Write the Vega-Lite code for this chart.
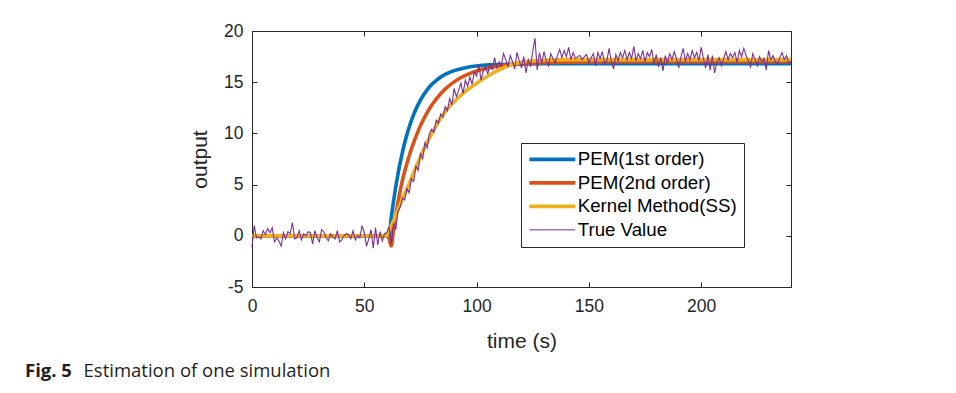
{
  "$schema": "https://vega.github.io/schema/vega-lite/v6.json",
  "width": 539,
  "height": 256,
  "autosize": {"type": "none"},
  "padding": {"left": 252, "top": 31, "right": 165, "bottom": 106},
  "background": "white",
  "title": {
    "text": "Fig. 5",
    "subtitle": "\u200b\u2003\u2003\u2003\u2009Estimation of one simulation",
    "orient": "bottom",
    "anchor": "start",
    "frame": "group",
    "dx": -227,
    "offset": 10,
    "font": "Open Sans",
    "fontSize": 18.5,
    "fontWeight": "bold",
    "color": "#231f20",
    "subtitleFont": "Open Sans",
    "subtitleFontSize": 18.5,
    "subtitleFontWeight": "normal",
    "subtitleColor": "#231f20",
    "subtitlePadding": -18.5
  },
  "datasets": {
    "pem1": [
      {"t": 0, "v": 0, "s": "PEM(1st order)"}, {"t": 61, "v": 0, "s": "PEM(1st order)"},
      {"t": 62, "v": 1.77, "s": "PEM(1st order)"}, {"t": 63, "v": 3.34, "s": "PEM(1st order)"},
      {"t": 64, "v": 4.76, "s": "PEM(1st order)"}, {"t": 65, "v": 6.03, "s": "PEM(1st order)"},
      {"t": 66, "v": 7.16, "s": "PEM(1st order)"}, {"t": 67, "v": 8.18, "s": "PEM(1st order)"},
      {"t": 68, "v": 9.09, "s": "PEM(1st order)"}, {"t": 69, "v": 9.89, "s": "PEM(1st order)"},
      {"t": 70, "v": 10.62, "s": "PEM(1st order)"}, {"t": 72, "v": 11.85, "s": "PEM(1st order)"},
      {"t": 74, "v": 12.83, "s": "PEM(1st order)"}, {"t": 76, "v": 13.63, "s": "PEM(1st order)"},
      {"t": 78, "v": 14.26, "s": "PEM(1st order)"}, {"t": 80, "v": 14.77, "s": "PEM(1st order)"},
      {"t": 83, "v": 15.34, "s": "PEM(1st order)"}, {"t": 86, "v": 15.76, "s": "PEM(1st order)"},
      {"t": 90, "v": 16.13, "s": "PEM(1st order)"}, {"t": 95, "v": 16.42, "s": "PEM(1st order)"},
      {"t": 100, "v": 16.58, "s": "PEM(1st order)"}, {"t": 106, "v": 16.69, "s": "PEM(1st order)"},
      {"t": 115, "v": 16.76, "s": "PEM(1st order)"}, {"t": 130, "v": 16.8, "s": "PEM(1st order)"},
      {"t": 240, "v": 16.8, "s": "PEM(1st order)"}
    ],
    "pem2": [
      {"t": 0, "v": 0, "s": "PEM(2nd order)"}, {"t": 60, "v": 0, "s": "PEM(2nd order)"},
      {"t": 61, "v": -0.2, "s": "PEM(2nd order)"}, {"t": 62, "v": -1.0, "s": "PEM(2nd order)"},
      {"t": 63, "v": 0.6, "s": "PEM(2nd order)"}, {"t": 64, "v": 2.0, "s": "PEM(2nd order)"},
      {"t": 65, "v": 3.3, "s": "PEM(2nd order)"}, {"t": 66, "v": 4.4, "s": "PEM(2nd order)"},
      {"t": 67, "v": 5.43, "s": "PEM(2nd order)"}, {"t": 68, "v": 6.29, "s": "PEM(2nd order)"},
      {"t": 69, "v": 7.07, "s": "PEM(2nd order)"}, {"t": 70, "v": 7.81, "s": "PEM(2nd order)"},
      {"t": 72, "v": 9.12, "s": "PEM(2nd order)"}, {"t": 74, "v": 10.25, "s": "PEM(2nd order)"},
      {"t": 76, "v": 11.21, "s": "PEM(2nd order)"}, {"t": 78, "v": 12.03, "s": "PEM(2nd order)"},
      {"t": 80, "v": 12.74, "s": "PEM(2nd order)"}, {"t": 83, "v": 13.62, "s": "PEM(2nd order)"},
      {"t": 86, "v": 14.32, "s": "PEM(2nd order)"}, {"t": 90, "v": 15.03, "s": "PEM(2nd order)"},
      {"t": 95, "v": 15.66, "s": "PEM(2nd order)"}, {"t": 100, "v": 16.09, "s": "PEM(2nd order)"},
      {"t": 105, "v": 16.38, "s": "PEM(2nd order)"}, {"t": 110, "v": 16.58, "s": "PEM(2nd order)"},
      {"t": 115, "v": 16.71, "s": "PEM(2nd order)"}, {"t": 120, "v": 16.8, "s": "PEM(2nd order)"},
      {"t": 130, "v": 16.91, "s": "PEM(2nd order)"}, {"t": 140, "v": 16.96, "s": "PEM(2nd order)"},
      {"t": 160, "v": 17.0, "s": "PEM(2nd order)"}, {"t": 240, "v": 17.0, "s": "PEM(2nd order)"}
    ],
    "kernel": [
      {"t": 0, "v": 0, "s": "Kernel Method(SS)"}, {"t": 60, "v": 0, "s": "Kernel Method(SS)"},
      {"t": 61, "v": 0.5, "s": "Kernel Method(SS)"}, {"t": 62, "v": 1.0, "s": "Kernel Method(SS)"},
      {"t": 64, "v": 2.0, "s": "Kernel Method(SS)"}, {"t": 66, "v": 3.1, "s": "Kernel Method(SS)"},
      {"t": 68, "v": 4.1, "s": "Kernel Method(SS)"}, {"t": 70, "v": 5.1, "s": "Kernel Method(SS)"},
      {"t": 72, "v": 6.2, "s": "Kernel Method(SS)"}, {"t": 74, "v": 7.2, "s": "Kernel Method(SS)"},
      {"t": 76, "v": 8.2, "s": "Kernel Method(SS)"}, {"t": 78, "v": 9.1, "s": "Kernel Method(SS)"},
      {"t": 80, "v": 9.95, "s": "Kernel Method(SS)"}, {"t": 83, "v": 11.1, "s": "Kernel Method(SS)"},
      {"t": 86, "v": 12.1, "s": "Kernel Method(SS)"}, {"t": 90, "v": 13.1, "s": "Kernel Method(SS)"},
      {"t": 95, "v": 14.1, "s": "Kernel Method(SS)"}, {"t": 100, "v": 14.9, "s": "Kernel Method(SS)"},
      {"t": 105, "v": 15.6, "s": "Kernel Method(SS)"}, {"t": 110, "v": 16.2, "s": "Kernel Method(SS)"},
      {"t": 116, "v": 16.75, "s": "Kernel Method(SS)"}, {"t": 120, "v": 16.95, "s": "Kernel Method(SS)"},
      {"t": 130, "v": 17.15, "s": "Kernel Method(SS)"}, {"t": 140, "v": 17.2, "s": "Kernel Method(SS)"},
      {"t": 240, "v": 17.2, "s": "Kernel Method(SS)"}
    ],
    "truth": [
      {"t":0,"v":-1.1,"s":"True Value"},{"t":1,"v":1.0,"s":"True Value"},{"t":2,"v":-0.2,"s":"True Value"},{"t":3,"v":-0.1,"s":"True Value"},{"t":4,"v":-0.3,"s":"True Value"},
      {"t":5,"v":0.5,"s":"True Value"},{"t":6,"v":0.1,"s":"True Value"},{"t":7,"v":0.7,"s":"True Value"},{"t":8,"v":0.3,"s":"True Value"},{"t":9,"v":0.8,"s":"True Value"},
      {"t":10,"v":-0.6,"s":"True Value"},{"t":11,"v":-0.2,"s":"True Value"},{"t":12,"v":-0.5,"s":"True Value"},{"t":13,"v":-1.0,"s":"True Value"},{"t":14,"v":0.3,"s":"True Value"},
      {"t":15,"v":-0.3,"s":"True Value"},{"t":16,"v":0.4,"s":"True Value"},{"t":17,"v":0.2,"s":"True Value"},{"t":18,"v":1.3,"s":"True Value"},{"t":19,"v":-0.3,"s":"True Value"},
      {"t":20,"v":-0.2,"s":"True Value"},{"t":21,"v":0.5,"s":"True Value"},{"t":22,"v":-0.4,"s":"True Value"},{"t":23,"v":0.2,"s":"True Value"},{"t":24,"v":0.0,"s":"True Value"},
      {"t":25,"v":0.4,"s":"True Value"},{"t":26,"v":0.3,"s":"True Value"},{"t":27,"v":-0.8,"s":"True Value"},{"t":28,"v":0.5,"s":"True Value"},{"t":29,"v":-0.2,"s":"True Value"},
      {"t":30,"v":-0.6,"s":"True Value"},{"t":31,"v":0.6,"s":"True Value"},{"t":32,"v":0.4,"s":"True Value"},{"t":33,"v":-0.2,"s":"True Value"},{"t":34,"v":-0.5,"s":"True Value"},
      {"t":35,"v":0.2,"s":"True Value"},{"t":36,"v":-0.1,"s":"True Value"},{"t":37,"v":-0.3,"s":"True Value"},{"t":38,"v":0.5,"s":"True Value"},{"t":39,"v":-0.6,"s":"True Value"},
      {"t":40,"v":-0.4,"s":"True Value"},{"t":41,"v":0.0,"s":"True Value"},{"t":42,"v":0.2,"s":"True Value"},{"t":43,"v":0.1,"s":"True Value"},{"t":44,"v":-0.3,"s":"True Value"},
      {"t":45,"v":0.5,"s":"True Value"},{"t":46,"v":-0.4,"s":"True Value"},{"t":47,"v":0.0,"s":"True Value"},{"t":48,"v":-0.2,"s":"True Value"},{"t":49,"v":1.0,"s":"True Value"},
      {"t":50,"v":0.3,"s":"True Value"},{"t":51,"v":-1.0,"s":"True Value"},{"t":52,"v":-0.3,"s":"True Value"},{"t":53,"v":0.6,"s":"True Value"},{"t":54,"v":-1.2,"s":"True Value"},
      {"t":55,"v":0.8,"s":"True Value"},{"t":56,"v":-0.9,"s":"True Value"},{"t":57,"v":0.4,"s":"True Value"},{"t":58,"v":-0.5,"s":"True Value"},{"t":59,"v":0.2,"s":"True Value"},
      {"t":60,"v":0.3,"s":"True Value"},{"t":61,"v":0.9,"s":"True Value"},{"t":62,"v":-0.8,"s":"True Value"},{"t":63,"v":1.2,"s":"True Value"},{"t":64,"v":0.6,"s":"True Value"},
      {"t":65,"v":2.4,"s":"True Value"},{"t":66,"v":2.8,"s":"True Value"},{"t":67,"v":3.7,"s":"True Value"},{"t":68,"v":3.5,"s":"True Value"},{"t":69,"v":4.6,"s":"True Value"},
      {"t":70,"v":4.2,"s":"True Value"},{"t":71,"v":5.6,"s":"True Value"},{"t":72,"v":5.3,"s":"True Value"},{"t":73,"v":6.8,"s":"True Value"},{"t":74,"v":6.4,"s":"True Value"},
      {"t":75,"v":8.0,"s":"True Value"},{"t":76,"v":7.5,"s":"True Value"},{"t":77,"v":9.1,"s":"True Value"},{"t":78,"v":8.6,"s":"True Value"},{"t":79,"v":10.0,"s":"True Value"},
      {"t":80,"v":10.4,"s":"True Value"},{"t":81,"v":10.1,"s":"True Value"},{"t":82,"v":11.3,"s":"True Value"},{"t":83,"v":11.0,"s":"True Value"},{"t":84,"v":11.9,"s":"True Value"},
      {"t":85,"v":11.6,"s":"True Value"},{"t":86,"v":12.6,"s":"True Value"},{"t":87,"v":12.2,"s":"True Value"},{"t":88,"v":13.4,"s":"True Value"},{"t":89,"v":12.8,"s":"True Value"},
      {"t":90,"v":14.4,"s":"True Value"},{"t":91,"v":13.6,"s":"True Value"},{"t":92,"v":14.2,"s":"True Value"},{"t":93,"v":14.9,"s":"True Value"},{"t":94,"v":13.9,"s":"True Value"},
      {"t":95,"v":15.2,"s":"True Value"},{"t":96,"v":14.6,"s":"True Value"},{"t":97,"v":15.5,"s":"True Value"},{"t":98,"v":14.8,"s":"True Value"},{"t":99,"v":16.0,"s":"True Value"},
      {"t":100,"v":15.6,"s":"True Value"},{"t":101,"v":16.7,"s":"True Value"},{"t":102,"v":15.2,"s":"True Value"},{"t":103,"v":16.1,"s":"True Value"},{"t":104,"v":16.5,"s":"True Value"},
      {"t":105,"v":15.8,"s":"True Value"},{"t":106,"v":16.9,"s":"True Value"},{"t":107,"v":16.2,"s":"True Value"},{"t":108,"v":17.4,"s":"True Value"},{"t":109,"v":16.4,"s":"True Value"},
      {"t":110,"v":17.0,"s":"True Value"},{"t":111,"v":16.6,"s":"True Value"},{"t":112,"v":17.8,"s":"True Value"},{"t":113,"v":17.2,"s":"True Value"},{"t":114,"v":16.5,"s":"True Value"},
      {"t":115,"v":17.6,"s":"True Value"},{"t":116,"v":17.0,"s":"True Value"},{"t":117,"v":16.3,"s":"True Value"},{"t":118,"v":17.9,"s":"True Value"},{"t":119,"v":17.1,"s":"True Value"},
      {"t":120,"v":16.4,"s":"True Value"},{"t":121,"v":17.5,"s":"True Value"},{"t":122,"v":15.9,"s":"True Value"},{"t":123,"v":17.2,"s":"True Value"},{"t":124,"v":16.6,"s":"True Value"},
      {"t":125,"v":18.0,"s":"True Value"},{"t":126,"v":19.3,"s":"True Value"},{"t":127,"v":16.2,"s":"True Value"},{"t":128,"v":17.9,"s":"True Value"},{"t":129,"v":16.8,"s":"True Value"},
      {"t":130,"v":18.0,"s":"True Value"},{"t":131,"v":17.1,"s":"True Value"},{"t":132,"v":16.6,"s":"True Value"},{"t":133,"v":17.8,"s":"True Value"},{"t":134,"v":17.3,"s":"True Value"},
      {"t":135,"v":16.9,"s":"True Value"},{"t":136,"v":17.6,"s":"True Value"},{"t":137,"v":18.2,"s":"True Value"},{"t":138,"v":17.4,"s":"True Value"},{"t":139,"v":18.1,"s":"True Value"},
      {"t":140,"v":17.5,"s":"True Value"},{"t":141,"v":18.4,"s":"True Value"},{"t":142,"v":17.2,"s":"True Value"},{"t":143,"v":17.9,"s":"True Value"},{"t":144,"v":17.3,"s":"True Value"},
      {"t":145,"v":17.5,"s":"True Value"},{"t":146,"v":17.6,"s":"True Value"},{"t":147,"v":17.2,"s":"True Value"},{"t":148,"v":17.5,"s":"True Value"},{"t":149,"v":17.7,"s":"True Value"},
      {"t":150,"v":16.9,"s":"True Value"},{"t":151,"v":17.4,"s":"True Value"},{"t":152,"v":17.8,"s":"True Value"},{"t":153,"v":16.6,"s":"True Value"},{"t":154,"v":17.9,"s":"True Value"},
      {"t":155,"v":17.3,"s":"True Value"},{"t":156,"v":18.0,"s":"True Value"},{"t":157,"v":16.8,"s":"True Value"},{"t":158,"v":17.1,"s":"True Value"},{"t":159,"v":18.3,"s":"True Value"},
      {"t":160,"v":17.0,"s":"True Value"},{"t":161,"v":16.3,"s":"True Value"},{"t":162,"v":17.7,"s":"True Value"},{"t":163,"v":17.1,"s":"True Value"},{"t":164,"v":17.9,"s":"True Value"},
      {"t":165,"v":17.4,"s":"True Value"},{"t":166,"v":18.1,"s":"True Value"},{"t":167,"v":17.2,"s":"True Value"},{"t":168,"v":17.9,"s":"True Value"},{"t":169,"v":17.3,"s":"True Value"},
      {"t":170,"v":18.5,"s":"True Value"},{"t":171,"v":17.1,"s":"True Value"},{"t":172,"v":17.8,"s":"True Value"},{"t":173,"v":17.3,"s":"True Value"},{"t":174,"v":18.1,"s":"True Value"},
      {"t":175,"v":17.0,"s":"True Value"},{"t":176,"v":17.9,"s":"True Value"},{"t":177,"v":17.5,"s":"True Value"},{"t":178,"v":18.2,"s":"True Value"},{"t":179,"v":16.8,"s":"True Value"},
      {"t":180,"v":17.7,"s":"True Value"},{"t":181,"v":16.5,"s":"True Value"},{"t":182,"v":17.4,"s":"True Value"},{"t":183,"v":16.1,"s":"True Value"},{"t":184,"v":17.6,"s":"True Value"},
      {"t":185,"v":16.9,"s":"True Value"},{"t":186,"v":17.8,"s":"True Value"},{"t":187,"v":17.2,"s":"True Value"},{"t":188,"v":18.0,"s":"True Value"},{"t":189,"v":17.3,"s":"True Value"},
      {"t":190,"v":16.4,"s":"True Value"},{"t":191,"v":17.5,"s":"True Value"},{"t":192,"v":18.3,"s":"True Value"},{"t":193,"v":17.0,"s":"True Value"},{"t":194,"v":17.8,"s":"True Value"},
      {"t":195,"v":17.2,"s":"True Value"},{"t":196,"v":18.1,"s":"True Value"},{"t":197,"v":17.4,"s":"True Value"},{"t":198,"v":17.9,"s":"True Value"},{"t":199,"v":17.1,"s":"True Value"},
      {"t":200,"v":18.4,"s":"True Value"},{"t":201,"v":17.3,"s":"True Value"},{"t":202,"v":16.4,"s":"True Value"},{"t":203,"v":17.7,"s":"True Value"},{"t":204,"v":16.2,"s":"True Value"},
      {"t":205,"v":17.6,"s":"True Value"},{"t":206,"v":15.9,"s":"True Value"},{"t":207,"v":17.0,"s":"True Value"},{"t":208,"v":17.4,"s":"True Value"},{"t":209,"v":16.6,"s":"True Value"},
      {"t":210,"v":17.3,"s":"True Value"},{"t":211,"v":18.0,"s":"True Value"},{"t":212,"v":17.2,"s":"True Value"},{"t":213,"v":17.8,"s":"True Value"},{"t":214,"v":17.4,"s":"True Value"},
      {"t":215,"v":17.9,"s":"True Value"},{"t":216,"v":16.9,"s":"True Value"},{"t":217,"v":18.1,"s":"True Value"},{"t":218,"v":17.5,"s":"True Value"},{"t":219,"v":18.3,"s":"True Value"},
      {"t":220,"v":17.6,"s":"True Value"},{"t":221,"v":17.1,"s":"True Value"},{"t":222,"v":16.5,"s":"True Value"},{"t":223,"v":17.8,"s":"True Value"},{"t":224,"v":17.2,"s":"True Value"},
      {"t":225,"v":16.6,"s":"True Value"},{"t":226,"v":17.5,"s":"True Value"},{"t":227,"v":17.0,"s":"True Value"},{"t":228,"v":17.3,"s":"True Value"},{"t":229,"v":16.2,"s":"True Value"},
      {"t":230,"v":18.1,"s":"True Value"},{"t":231,"v":17.2,"s":"True Value"},{"t":232,"v":17.6,"s":"True Value"},{"t":233,"v":17.0,"s":"True Value"},{"t":234,"v":16.8,"s":"True Value"},
      {"t":235,"v":17.4,"s":"True Value"},{"t":236,"v":17.9,"s":"True Value"},{"t":237,"v":17.2,"s":"True Value"},{"t":238,"v":17.6,"s":"True Value"},{"t":239,"v":16.9,"s":"True Value"},
      {"t":240,"v":17.0,"s":"True Value"}
    ]
  },
  "layer": [
    {
      "data": {"name": "pem1"},
      "mark": {"type": "line", "interpolate": "monotone", "strokeWidth": 3.6},
      "encoding": {
        "x": {"field": "t", "type": "quantitative", "scale": {"domain": [0, 240], "nice": false, "zero": false},
              "axis": {"orient": "bottom", "title": "time (s)", "values": [0, 50, 100, 150, 200], "labelPadding": 10, "titlePadding": 16, "labelExpr": "'' + datum.value"}},
        "y": {"field": "v", "type": "quantitative", "scale": {"domain": [-5, 20], "nice": false, "zero": false},
              "axis": {"orient": "left", "title": "output", "values": [-5, 0, 5, 10, 15, 20], "labelPadding": 9, "titlePadding": 13, "labelExpr": "'' + datum.value"}},
        "color": {"field": "s", "type": "nominal", "title": null,
                  "scale": {"domain": ["PEM(1st order)", "PEM(2nd order)", "Kernel Method(SS)", "True Value"], "range": ["#0072BD", "#D95319", "#EDB120", "#7E2F8E"]},
                  "legend": {"encode": {"symbols": {"update": {"strokeWidth": {"signal": "datum.value === 'True Value' ? 1 : 3.6"}}}}}}
      }
    },
    {
      "data": {"name": "pem2"},
      "mark": {"type": "line", "interpolate": "monotone", "strokeWidth": 3.6},
      "encoding": {
        "x": {"field": "t", "type": "quantitative", "axis": {"orient": "top", "title": null, "labels": false, "values": [0, 50, 100, 150, 200]}},
        "y": {"field": "v", "type": "quantitative", "axis": {"orient": "right", "title": null, "labels": false, "values": [-5, 0, 5, 10, 15, 20]}},
        "color": {"field": "s", "type": "nominal", "title": null}
      }
    },
    {
      "data": {"name": "kernel"},
      "mark": {"type": "line", "interpolate": "monotone", "strokeWidth": 3.6},
      "encoding": {
        "x": {"field": "t", "type": "quantitative", "axis": null},
        "y": {"field": "v", "type": "quantitative", "axis": null},
        "color": {"field": "s", "type": "nominal", "title": null}
      }
    },
    {
      "data": {"name": "truth"},
      "mark": {"type": "line", "strokeWidth": 1.1},
      "encoding": {
        "x": {"field": "t", "type": "quantitative", "axis": null},
        "y": {"field": "v", "type": "quantitative", "axis": null},
        "color": {"field": "s", "type": "nominal", "title": null}
      }
    }
  ],
  "resolve": {"axis": {"x": "independent", "y": "independent"}},
  "config": {
    "view": {"stroke": "#262626", "strokeWidth": 1},
    "axis": {
      "grid": false, "domain": false, "tickSize": 5, "offset": -5, "tickColor": "#262626",
      "labelColor": "#262626", "titleColor": "#262626",
      "labelFont": "Liberation Sans", "titleFont": "Liberation Sans",
      "labelFontSize": 17.5, "titleFontSize": 21, "titleFontWeight": "normal",
      "labelFlush": false, "labelOverlap": false
    },
    "legend": {
      "orient": "none", "legendX": 269, "legendY": 112,
      "strokeColor": "#262626", "fillColor": "white", "padding": 7,
      "symbolType": "M-1,0H4.75", "symbolSize": 256,
      "labelFont": "Liberation Sans", "labelFontSize": 18.7, "labelColor": "#000000",
      "labelOffset": 31, "rowPadding": 3.5
    }
  }
}
